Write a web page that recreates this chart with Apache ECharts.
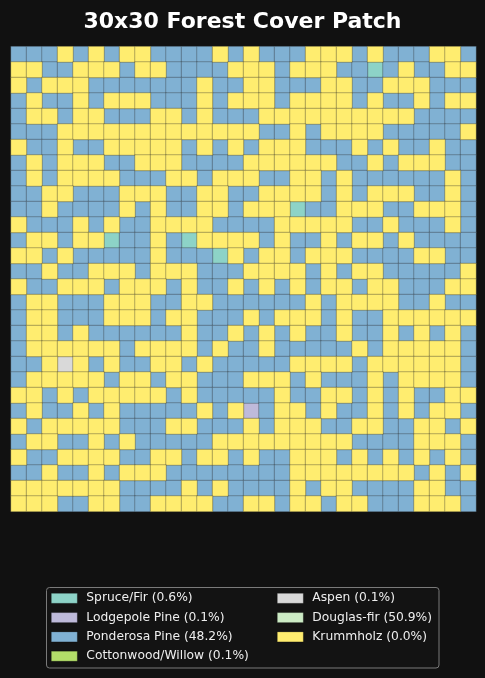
<!DOCTYPE html>
<html>
<head>
<meta charset="utf-8">
<script src="https://cdn.jsdelivr.net/npm/echarts@6/dist/echarts.min.js"></script>
<style>
html,body{margin:0;padding:0;background:#111111;}
#chart{width:485px;height:678px;}
</style>
</head>
<body>
<div id="chart"></div>
<script>
// Class codes: S Spruce/Fir, L Lodgepole Pine, P Ponderosa Pine, C Cottonwood/Willow, A Aspen, D Douglas-fir, K Krummholz
const classCodes = ['S', 'L', 'P', 'C', 'A', 'D', 'K'];
const classNames = ['Spruce/Fir', 'Lodgepole Pine', 'Ponderosa Pine', 'Cottonwood/Willow', 'Aspen', 'Douglas-fir', 'Krummholz'];
const classPct = ['0.6%', '0.1%', '48.2%', '0.1%', '0.1%', '50.9%', '0.0%'];
// colour used for the cells in the grid
const cellColors = ['#8dd3c7', '#bebada', '#80b1d3', '#b3de69', '#d9d9d9', '#ffed6f', '#ffed6f'];
// colour used for the legend swatches
const legendColors = ['#8dd3c7', '#bebada', '#80b1d3', '#b3de69', '#d9d9d9', '#ccebc5', '#ffed6f'];

// 30 rows (top to bottom) x 30 columns (left to right)
const patchRows = [
  'PPPDPDPDDPPPPDPDPPPDDDPDPPPDDP',
  'DDPPDDDPDDPPPPDDDPDDDPPSPDPPDD',
  'DPDDDPPPPPPPDPPDDPPPDDPPDDDPPP',
  'PDPPDPDDDPPPDPDDDPDDDDPDPPDPDD',
  'PDDPDDPPPDDPDPPPDDDDDDDDDDPPPP',
  'PPPDDDDDDDDDDDDDPPDPDDDDPPPPPD',
  'DPPDPPDDDDDPDPDPDDDPPPDPDPPDPP',
  'PDPDDDPPDDDPPPPDDDDDDPPDPDDDPP',
  'PDPDDDDPPPDDPDDDPPDDPDPPPPPPDP',
  'PPDDPPPDDDPPDDPPDDDDPDPDDDPPDP',
  'PPDPPPPDPDPPDDPDDDSPPDDDPPDDDP',
  'DPPPDPDPPDDDDPPPPDDDDDPPDPPPDP',
  'PDDPDDSPPDPSDDDDPDPPDPDDPDPPPP',
  'DDPDPPPPPDPPPSDPDDPDDDPPPPDDPP',
  'PPDPPDDDPDDDPPPDDDDPDPDDPPPPPD',
  'DPPDDDPDDDPDPPDPDPDPDDPDDPPPDD',
  'PDDPPPDDDPPDDPPPPPPDPDDDDPPDPP',
  'PDDPPPDDDPDDPPPDPDDDPDPPDDDDDD',
  'PDDPDPPPPPPDPPDPDPDPPDPPDPDPDP',
  'PDDDDDDPDDDDPDPPDPPPPPDPDDDDDP',
  'PPDADPDPPDDPDPPPPPDDDDPDDDDDDP',
  'PDDDDDPDDPDDPPPDDDPDPPPDPDDDDP',
  'DDPDPDDDDDPDPPPPPDPPDDPDPDPPDD',
  'PDPPDPDPPPPPDPDLPDDPDPPDPDPDDP',
  'DPDDDDDPPPDDPPPDPDDDPPDDPPDDPD',
  'PDDPPDPDPPPPPDDDDDDDDDPPPPDDDP',
  'DPPDDDDPPDDPDDPDPPDDDPDPDPDPDP',
  'PPDPPDPDDDPPPPPPPPDDDDDDDDPDPD',
  'DDDDDDDPPPPDPDPPPPDPDDPPPPDDPP',
  'DDDPPDDPPDDDDPPDDPDDPDDPPPDDDP'
];

const colLabels = Array.from({length: 30}, (_, i) => String(i));
const rowLabels = Array.from({length: 30}, (_, i) => String(i));

const seriesNames = classNames.map((n, i) => n + ' (' + classPct[i] + ')');

const seriesData = classCodes.map(() => []);
patchRows.forEach((row, r) => {
  for (let c = 0; c < row.length; c++) {
    const k = classCodes.indexOf(row[c]);
    if (k >= 0) seriesData[k].push([c, r, k]);
  }
});

const series = classCodes.map((code, k) => ({
  name: seriesNames[k],
  type: 'heatmap',
  data: seriesData[k],
  itemStyle: {color: cellColors[k], borderColor: 'rgba(40,40,40,0.4)', borderWidth: 0.8},
  emphasis: {disabled: true},
  silent: true,
  animation: false
}));

const legendItem = k => ({name: seriesNames[k], itemStyle: {color: legendColors[k], borderColor: 'rgba(0,0,0,0.35)', borderWidth: 0.6}});

const legendCommon = {
  orient: 'vertical',
  padding: 0,
  itemWidth: 26,
  itemHeight: 10,
  itemGap: 3.3,
  icon: 'rect',
  selectedMode: false,
  textStyle: {color: '#eeeeee', fontSize: 12.3, fontFamily: 'DejaVu Sans', lineHeight: 16, padding: [0, 0, 0, 4]}
};

const chart = echarts.init(document.getElementById('chart'), null, {renderer: 'canvas'});
chart.setOption({
  backgroundColor: '#111111',
  animation: false,
  title: {
    text: '30x30 Forest Cover Patch',
    left: 'center',
    top: 6,
    textStyle: {color: '#ffffff', fontSize: 22, fontWeight: 'bold', fontFamily: 'DejaVu Sans'}
  },
  grid: {left: 11, top: 46.5, width: 465, height: 465},
  xAxis: {type: 'category', data: colLabels, show: false},
  yAxis: {type: 'category', data: rowLabels, inverse: true, show: false},
  legend: [
    Object.assign({}, legendCommon, {left: 51, top: 590.3, data: [0, 1, 2, 3].map(legendItem)}),
    Object.assign({}, legendCommon, {left: 277, top: 590.3, data: [4, 5, 6].map(legendItem)})
  ],
  graphic: [{
    type: 'rect',
    z: -1,
    shape: {x: 46.5, y: 587.5, width: 392.5, height: 80.5, r: 3},
    style: {fill: '#131313', stroke: '#7a7a7a', lineWidth: 1}
  }],
  series: series
});
</script>
</body>
</html>
